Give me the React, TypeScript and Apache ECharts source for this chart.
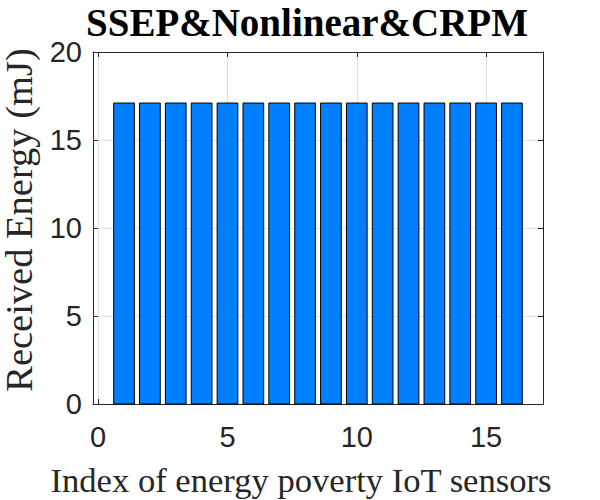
import React, { useEffect, useRef } from "react";
import * as echarts from "echarts";

const sensorIndex = [1, 2, 3, 4, 5, 6, 7, 8, 9, 10, 11, 12, 13, 14, 15, 16];
const receivedEnergy = [17.1, 17.1, 17.1, 17.1, 17.1, 17.1, 17.1, 17.1, 17.1, 17.1, 17.1, 17.1, 17.1, 17.1, 17.1, 17.1];
const xTicks = [0, 5, 10, 15];
const barWidthUnits = 0.8;
const titleText = "SSEP&Nonlinear&CRPM";
const xLabel = "Index of energy poverty IoT sensors";
const yLabel = "Received Energy (mJ)";

export default function App() {
  const ref = useRef<HTMLDivElement>(null);
  useEffect(() => {
    document.body.style.margin = "0";
    const chart = echarts.init(ref.current!, null, { renderer: "svg" });
    const tickColor = "#262626";
    const sans = "Liberation Sans, Arial, Helvetica, sans-serif";
    const serif = "Liberation Serif, Times New Roman, serif";
    const xCommon = {
      type: "value" as const,
      min: -0.2,
      max: 17.2,
      axisLine: { show: true, onZero: false, lineStyle: { color: tickColor, width: 1 } },
    };
    const yCommon = {
      type: "value" as const,
      min: 0,
      max: 20,
      interval: 5,
      axisLine: { show: true, onZero: false, lineStyle: { color: tickColor, width: 1 } },
    };
    chart.setOption({
      animation: false,
      backgroundColor: "#ffffff",
      title: {
        text: titleText,
        left: 302,
        top: -2,
        textAlign: "center",
        textStyle: { fontFamily: serif, fontWeight: "bold", fontSize: 39, color: "#000" },
      },
      grid: { left: 93, top: 52, right: 57, bottom: 96, containLabel: false, outerBoundsMode: "none" },
      xAxis: [
        {
          ...xCommon,
          position: "bottom",
          name: xLabel,
          nameLocation: "middle",
          nameGap: 58,
          nameTextStyle: { fontFamily: serif, fontSize: 34.6, color: "#262626", padding: [0, 34, 0, 0] },
          axisTick: { show: true, inside: true, length: 5, customValues: xTicks, lineStyle: { color: tickColor } },
          axisLabel: { show: true, customValues: xTicks, fontFamily: sans, fontSize: 29, color: tickColor, margin: 18 },
          splitLine: { show: true, lineStyle: { color: "#dfdfdf", width: 1 } },
        },
        {
          ...xCommon,
          position: "top",
          axisTick: { show: true, inside: true, length: 5, customValues: xTicks, lineStyle: { color: tickColor } },
          axisLabel: { show: false },
          splitLine: { show: false },
        },
      ],
      yAxis: [
        {
          ...yCommon,
          position: "left",
          name: yLabel,
          nameLocation: "middle",
          nameGap: 44,
          nameTextStyle: { fontFamily: serif, fontSize: 38.5, color: "#262626", padding: [0, 0, 0, 16] },
          axisTick: { show: true, inside: true, length: 5, lineStyle: { color: tickColor } },
          axisLabel: { fontFamily: sans, fontSize: 29, color: tickColor, margin: 11 },
          splitLine: { show: true, lineStyle: { color: "#dfdfdf", width: 1 } },
        },
        {
          ...yCommon,
          position: "right",
          axisTick: { show: true, inside: true, length: 5, lineStyle: { color: tickColor } },
          axisLabel: { show: false },
          splitLine: { show: false },
        },
      ],
      series: [
        {
          type: "custom",
          xAxisIndex: 0,
          yAxisIndex: 0,
          data: sensorIndex.map((x, i) => [x, receivedEnergy[i]]),
          encode: { x: 0, y: 1 },
          renderItem: (params: any, api: any) => {
            const x = api.value(0);
            const y = api.value(1);
            const p0 = api.coord([x - barWidthUnits / 2, 0]);
            const p1 = api.coord([x + barWidthUnits / 2, y]);
            return {
              type: "rect",
              shape: { x: p0[0], y: p1[1], width: p1[0] - p0[0], height: p0[1] - p1[1] },
              style: { fill: "#0080ff", stroke: "#000", lineWidth: 1 },
            };
          },
        },
      ],
    });
    return () => chart.dispose();
  }, []);
  return <div ref={ref} style={{ width: 600, height: 500 }} />;
}
